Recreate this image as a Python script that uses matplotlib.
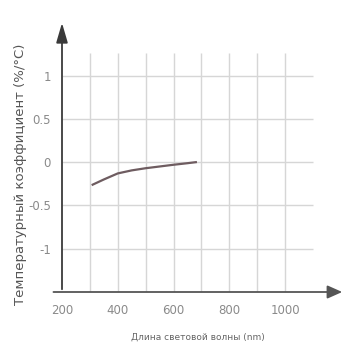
import matplotlib.pyplot as plt

# wavelength (nm) vs temperature coefficient (%/°C)
wavelength = [310, 350, 400, 450, 500, 550, 600, 650, 680]
coef = [-0.26, -0.2, -0.13, -0.095, -0.07, -0.05, -0.03, -0.012, 0.0]

xticks = [200, 400, 600, 800, 1000]
yticks = [1, 0.5, 0, -0.5, -1]
ytick_labels = ["1", "0.5", "0", "-0.5", "-1"]

fig = plt.figure(figsize=(3.47, 3.49), dpi=100)
ax = fig.add_axes([62 / 347, 57 / 349, 283 / 347, 264 / 349])
ax.set_xlim(200, 1215)
ax.set_ylim(-1.5, 1.55)

grid_c = "#d6d6d6"
ax.hlines(yticks, 200, 1100, color=grid_c, lw=1.0, zorder=1)
ax.vlines(range(300, 1001, 100), -1.5, 1.26, color=grid_c, lw=1.0, zorder=1)

ax.plot(wavelength, coef, color="#6e5c60", lw=1.6, zorder=3)

for s in ax.spines.values():
    s.set_visible(False)
ax.tick_params(length=0, colors="#8a8a8a", labelsize=8.5)
ax.tick_params(axis="x", pad=9)
ax.tick_params(axis="y", pad=8)
ax.set_xticks(xticks)
ax.set_yticks(yticks)
ax.set_yticklabels(ytick_labels)

# axis arrows
ax.annotate("", xy=(1, 0), xytext=(-0.04, 0), xycoords="axes fraction",
            arrowprops=dict(arrowstyle="-|>,head_length=0.9,head_width=0.4",
                            color="#555555", lw=1.3))
ax.annotate("", xy=(0, 1.03), xytext=(0, 0), xycoords="axes fraction",
            arrowprops=dict(arrowstyle="-|>,head_length=1.2,head_width=0.35",
                            color="#3a3a3a", lw=1.3))

fig.text(0.57, 0.033, "Длина световой волны (nm)", ha="center", va="center",
         fontsize=6.5, color="#666666")
fig.text(0.06, 0.5, "Температурный коэффициент (%/°C)", ha="center", va="center",
         rotation=90, fontsize=9.5, color="#555555")

fig.savefig("out.png", dpi=100)
